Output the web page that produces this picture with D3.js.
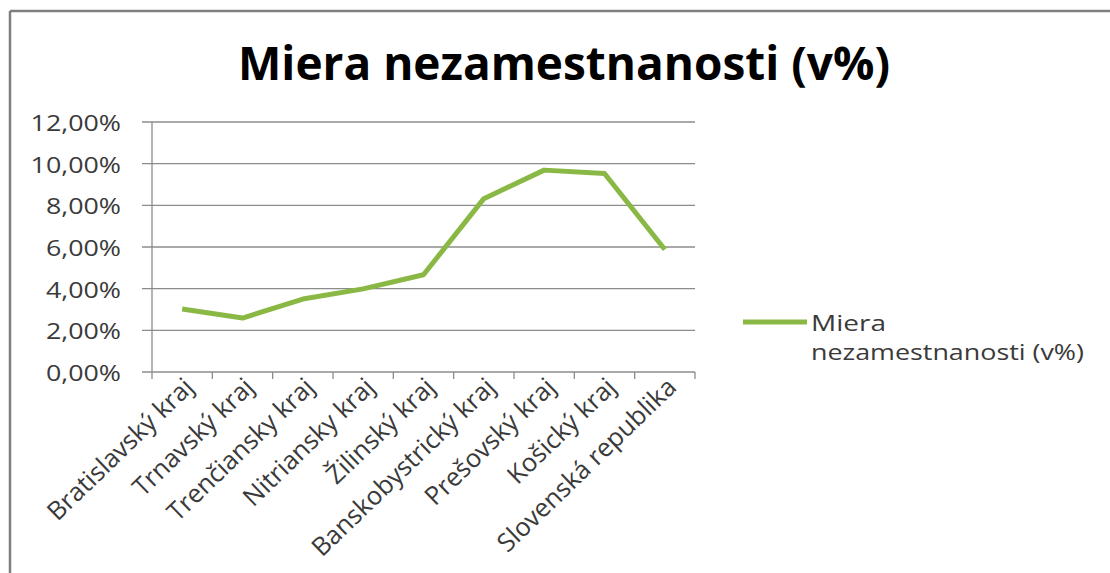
<!doctype html>
<html>
<head>
<meta charset="utf-8"/>
<title>Miera nezamestnanosti (v%)</title>
<script src="https://d3js.org/d3.v7.min.js"></script>
<style>
body { margin:0; background:#fff; }
text { font-family: "Open Sans", "DejaVu Sans", sans-serif; }
</style>
</head>
<body>
<script>
// kraje a miera nezamestnanosti
var kraje = ["Bratislavský kraj", "Trnavský kraj", "Trenčiansky kraj", "Nitriansky kraj",
             "Žilinský kraj", "Banskobystrický kraj", "Prešovský kraj", "Košický kraj",
             "Slovenská republika"];
var miera = [3.02, 2.59, 3.50, 3.99, 4.67, 8.32, 9.69, 9.53, 5.88];
var yTicks = [0, 2, 4, 6, 8, 10, 12];
var nazov = "Miera nezamestnanosti (v%)";
var farba = "#8ab845";
var sirka = 1.22; // obrazok je trochu natiahnuty do sirky

var svg = d3.select("body").append("svg")
    .attr("width", 1110)
    .attr("height", 573);

// ramik grafu
svg.append("line").attr("x1", 10).attr("x2", 1110).attr("y1", 11).attr("y2", 11)
   .attr("stroke", "#7f7f7f").attr("stroke-width", 2.5);
svg.append("line").attr("x1", 10).attr("x2", 10).attr("y1", 11).attr("y2", 573)
   .attr("stroke", "#7f7f7f").attr("stroke-width", 2.5);

var x = d3.scaleBand().domain(kraje).range([152, 695]);
var y = d3.scaleLinear().domain([0, 12]).range([372, 122]);

// mriezka
svg.append("g").selectAll("line").data(yTicks).enter().append("line")
   .attr("x1", 142).attr("x2", 695)
   .attr("y1", function(d){ return y(d); }).attr("y2", function(d){ return y(d); })
   .attr("stroke", "#8c8c8c").attr("stroke-width", 1.3);

// os y
svg.append("line").attr("x1", 152).attr("x2", 152).attr("y1", 122).attr("y2", 372)
   .attr("stroke", "#8c8c8c").attr("stroke-width", 1.3);

svg.append("g").selectAll("text").data(yTicks).enter().append("text")
   .attr("transform", function(d){ return "translate(121," + (y(d) + 9) + ") scale(" + sirka + ",1)"; })
   .attr("text-anchor", "end")
   .attr("font-size", 22)
   .attr("fill", "#3a3a3a")
   .text(function(d){ return d3.format(".2f")(d).replace(".", ",") + "%"; });

// os x - ciarky
var hranice = kraje.map(function(k){ return x(k); }).concat([695]);
svg.append("g").selectAll("line").data(hranice).enter().append("line")
   .attr("x1", function(d){ return d; }).attr("x2", function(d){ return d; })
   .attr("y1", 372).attr("y2", 379)
   .attr("stroke", "#8c8c8c").attr("stroke-width", 1.3);

svg.append("g").selectAll("text").data(kraje).enter().append("text")
   .attr("transform", function(d){
       return "translate(" + (x(d) + x.bandwidth() / 2 + 13) + ",389) rotate(-44)";
   })
   .attr("text-anchor", "end")
   .attr("font-size", 25.5)
   .attr("fill", "#3a3a3a")
   .text(function(d){ return d; });

// ciara
var ciara = d3.line()
    .x(function(d, i){ return x(kraje[i]) + x.bandwidth() / 2; })
    .y(function(d){ return y(d); });

svg.append("path").datum(miera)
   .attr("d", ciara)
   .attr("fill", "none")
   .attr("stroke", farba)
   .attr("stroke-width", 5)
   .attr("stroke-linejoin", "round");

// nazov
svg.append("text")
   .attr("x", 564).attr("y", 80)
   .attr("text-anchor", "middle")
   .attr("font-size", 46)
   .attr("font-weight", "bold")
   .attr("fill", "#000")
   .attr("textLength", 652)
   .attr("lengthAdjust", "spacingAndGlyphs")
   .text(nazov);

// legenda
svg.append("line").attr("x1", 743).attr("x2", 807).attr("y1", 322).attr("y2", 322)
   .attr("stroke", farba).attr("stroke-width", 5);
var leg = svg.append("text").attr("font-size", 21).attr("fill", "#3a3a3a");
leg.append("tspan").attr("x", 811).attr("y", 331)
   .attr("textLength", 75).attr("lengthAdjust", "spacingAndGlyphs").text("Miera");
leg.append("tspan").attr("x", 811).attr("y", 360)
   .attr("textLength", 273).attr("lengthAdjust", "spacingAndGlyphs").text("nezamestnanosti (v%)");
</script>
</body>
</html>
